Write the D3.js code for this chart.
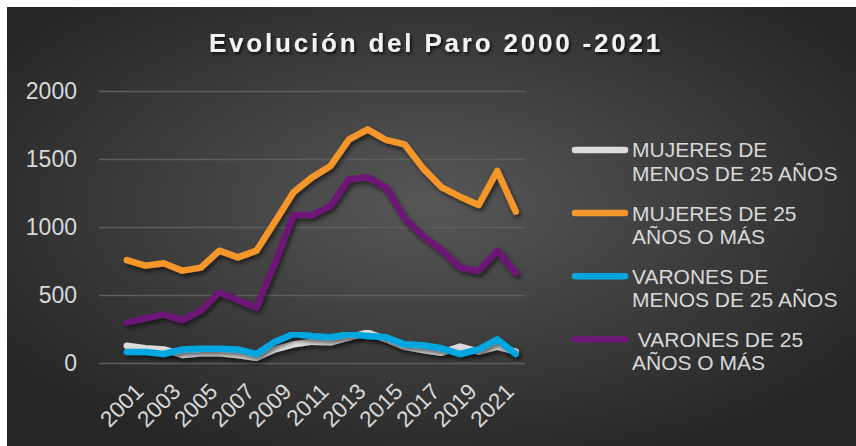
<!DOCTYPE html>
<meta charset="utf-8">
<head>
<style>
body { margin: 0; background: #fff; }
text { font-family: "Liberation Sans", Arial, sans-serif; fill: #d9d9d9; }
.axis path { display: none; }
.y.axis line { stroke: #5e5e5e; stroke-width: 1.5; }
.legend text { white-space: pre; }
</style>
<script src="https://cdn.jsdelivr.net/npm/d3@7"></script>
</head>
<body>
<script>
var years = d3.range(2000, 2022);
var xTicks = [2001, 2003, 2005, 2007, 2009, 2011, 2013, 2015, 2017, 2019, 2021];
var yTicks = [0, 500, 1000, 1500, 2000];

var mujeresMenos25 = [127, 108, 100, 59, 71, 71, 59, 39, 100, 137, 157, 152, 189, 223, 174, 120, 96, 76, 120, 83, 120, 83];
var mujeres25Mas   = [757, 716, 733, 679, 701, 826, 777, 826, 1039, 1255, 1365, 1449, 1645, 1718, 1640, 1608, 1431, 1292, 1223, 1162, 1412, 1113];
var varonesMenos25 = [81, 81, 66, 100, 105, 105, 100, 66, 157, 213, 199, 189, 211, 199, 189, 137, 130, 108, 66, 100, 174, 66];
var varones25Mas   = [299, 328, 358, 316, 385, 520, 463, 407, 733, 1088, 1088, 1154, 1351, 1365, 1292, 1064, 934, 831, 701, 676, 826, 664];

var seriesNames = [["MUJERES DE", "MENOS DE 25 AÑOS"], ["MUJERES DE 25", "AÑOS O MÁS"],
                   ["VARONES DE", "MENOS DE 25 AÑOS"], [" VARONES DE 25", "AÑOS O MÁS"]];
var seriesData = [mujeresMenos25, mujeres25Mas, varonesMenos25, varones25Mas];
var colors = ["#dcdcdc", "#f4962a", "#05a6e0", "#6e1877"];

var W = 856, H = 446;
var svg = d3.select("body").append("svg").attr("width", W).attr("height", H);

var defs = svg.append("defs");
var grad = defs.append("radialGradient").attr("id", "bg")
    .attr("cx", "50%").attr("cy", "45%").attr("r", "62%");
grad.append("stop").attr("offset", "0%").attr("stop-color", "#575757");
grad.append("stop").attr("offset", "100%").attr("stop-color", "#262626");

var sh = defs.append("filter").attr("id", "shadow")
    .attr("x", "-10%").attr("y", "-10%").attr("width", "130%").attr("height", "140%");
sh.append("feDropShadow").attr("dx", 2).attr("dy", 3).attr("stdDeviation", 2)
    .attr("flood-color", "#000").attr("flood-opacity", 0.55);

var tsh = defs.append("filter").attr("id", "tshadow");
tsh.append("feDropShadow").attr("dx", 1.5).attr("dy", 2).attr("stdDeviation", 1.5)
    .attr("flood-color", "#000").attr("flood-opacity", 0.8);

svg.append("rect").attr("x", 7).attr("y", 7).attr("width", W - 7).attr("height", H - 7)
    .attr("fill", "url(#bg)");

svg.append("text")
    .attr("x", 436).attr("y", 52)
    .attr("text-anchor", "middle")
    .style("font-size", "26px").style("font-weight", "bold")
    .style("letter-spacing", "2.8px")
    .style("fill", "#f2f2f2")
    .attr("filter", "url(#tshadow)")
    .text("Evolución del Paro 2000 -2021");

var plotLeft = 99, plotRight = 525, plotTop = 91, plotBottom = 363;

var x = d3.scaleLinear().domain([1998.5, 2021.5]).range([plotLeft, plotRight]);
var y = d3.scaleLinear().domain([0, 2000]).range([plotBottom, plotTop]);

svg.append("g")
    .attr("class", "y axis")
    .attr("transform", "translate(" + plotLeft + ",0)")
    .call(d3.axisLeft(y).tickValues(yTicks).tickFormat(d3.format("d"))
        .tickSize(-(plotRight - plotLeft)).tickPadding(22))
    .selectAll("text")
    .style("font-size", "23px");

var xg = svg.append("g")
    .attr("class", "x axis")
    .attr("transform", "translate(0," + plotBottom + ")")
    .call(d3.axisBottom(x).tickValues(xTicks).tickSize(0).tickFormat(d3.format("d")));
xg.selectAll("line").remove();
xg.selectAll("text")
    .attr("y", 0).attr("dy", 0)
    .attr("text-anchor", "end")
    .attr("transform", "translate(-1,30) rotate(-45)")
    .style("font-size", "22.5px");

var line = d3.line()
    .x(function (d, i) { return x(years[i]); })
    .y(function (d) { return y(d); });

svg.append("g").selectAll("path")
    .data(seriesData)
    .enter().append("path")
    .attr("d", line)
    .attr("fill", "none")
    .attr("stroke", function (d, i) { return colors[i]; })
    .attr("stroke-width", 6.5)
    .attr("stroke-linejoin", "round")
    .attr("stroke-linecap", "round")
    .attr("filter", "url(#shadow)");

var legend = svg.append("g").attr("class", "legend");
seriesNames.forEach(function (name, i) {
    var ly = 150 + i * 63.1;
    legend.append("line")
        .attr("x1", 575).attr("x2", 625).attr("y1", ly).attr("y2", ly)
        .attr("stroke", colors[i]).attr("stroke-width", 6.5)
        .attr("stroke-linecap", "round");
    legend.append("text").attr("x", 632).attr("y", ly + 7.4)
        .style("font-size", "21px").text(name[0]);
    legend.append("text").attr("x", 632).attr("y", ly + 30.8)
        .style("font-size", "21px").text(name[1]);
});
</script>
</body>
